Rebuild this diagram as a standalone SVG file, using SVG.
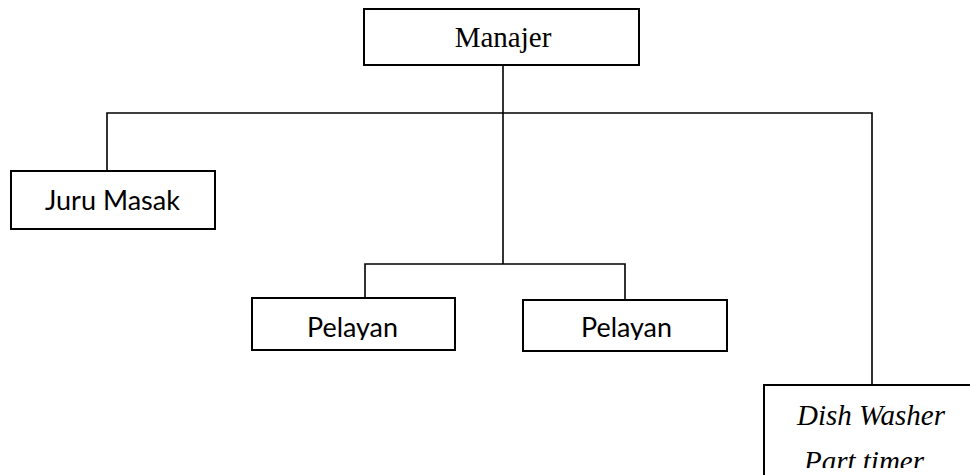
<svg xmlns="http://www.w3.org/2000/svg" width="970" height="475" viewBox="0 0 970 475">
<style>
.box{fill:#fff;stroke:#000;stroke-width:2}
.ln{fill:none;stroke:#000;stroke-width:1.6}
.serif{font-family:"Liberation Serif","Times New Roman",serif;font-size:29px;fill:#000}
.sans{font-family:Lato,"Open Sans",sans-serif;font-size:26px;fill:#000}
</style>
<defs>
<clipPath id="c1"><rect x="252" y="298" width="203" height="42"/></clipPath>
<clipPath id="c2"><rect x="523" y="300" width="204" height="40"/></clipPath>
<clipPath id="c3"><rect x="764" y="385" width="214" height="83"/></clipPath>
</defs>
<rect width="970" height="475" fill="#fff"/>
<g id="connectors">
<path class="ln" d="M503 65 V264"/>
<path class="ln" d="M107 171 V113 H872 V385"/>
<path class="ln" d="M365 298 V264 H625 V300"/>
</g>
<g id="manajer">
<rect class="box" x="364" y="9" width="275" height="56"/>
<text class="serif" x="503" y="47" text-anchor="middle">Manajer</text>
</g>
<g id="juru-masak">
<rect class="box" x="11" y="171" width="204" height="58"/>
<text class="sans" x="45" y="210" textLength="135" lengthAdjust="spacingAndGlyphs">Juru Masak</text>
</g>
<g id="pelayan-1">
<rect class="box" x="252" y="298" width="203" height="52"/>
<text class="sans" x="307" y="337" textLength="91" lengthAdjust="spacingAndGlyphs" clip-path="url(#c1)">Pelayan</text>
</g>
<g id="pelayan-2">
<rect class="box" x="523" y="300" width="204" height="51"/>
<text class="sans" x="581" y="337" textLength="91" lengthAdjust="spacingAndGlyphs" clip-path="url(#c2)">Pelayan</text>
</g>
<g id="dish-washer">
<rect class="box" x="764" y="385" width="214" height="100"/>
<g clip-path="url(#c3)">
<text class="serif" x="871" y="425" text-anchor="middle" font-style="italic" font-size="31">Dish Washer</text>
<text class="serif" x="864" y="471" text-anchor="middle" font-style="italic" font-size="31">Part timer</text>
</g>
</g>
</svg>
